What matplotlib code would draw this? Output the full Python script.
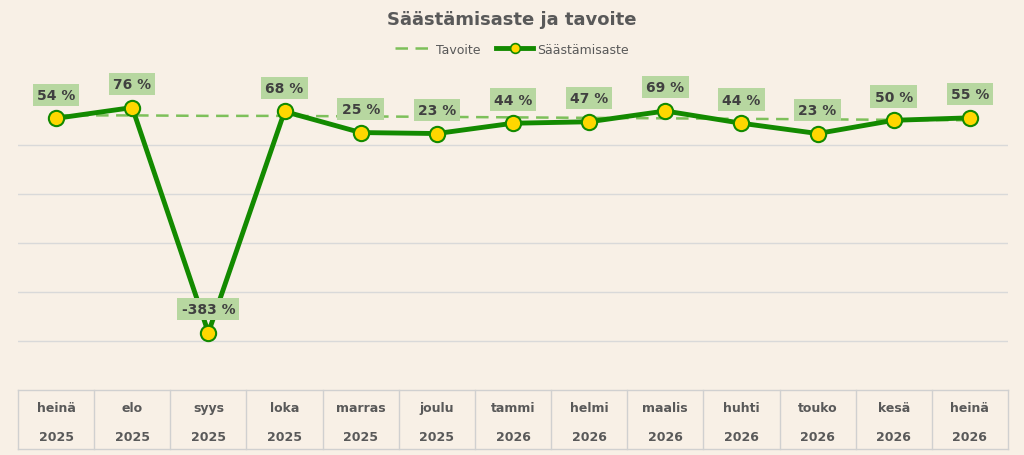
import matplotlib.pyplot as plt
import numpy as np
from matplotlib.lines import Line2D

months = ['heinä', 'elo', 'syys', 'loka', 'marras', 'joulu', 'tammi', 'helmi',
          'maalis', 'huhti', 'touko', 'kesä', 'heinä']
years = ['2025'] * 6 + ['2026'] * 7
savings = [54, 76, -383, 68, 25, 23, 44, 47, 69, 44, 23, 50, 55]
target = [60, 60, 59, 59, 58, 57, 56, 55, 54, 53, 52, 51, 50]

bg = '#f8f0e6'
W, H = 1024, 456
fig = plt.figure(figsize=(W / 100, H / 100), dpi=100, facecolor=bg)
# plot area in pixels: x 18..1008, y 60..391
ax = fig.add_axes([18 / W, 1 - 391 / H, 990 / W, 331 / H], facecolor=bg)
n = len(months)
x = np.arange(n)
ax.set_xlim(-0.5, n - 0.5)
ax.set_ylim(-500, 175)
for g in [0, -100, -200, -300, -400]:
    ax.axhline(g, color='#d9d9d9', lw=1, zorder=0)
for s in ax.spines.values():
    s.set_visible(False)
ax.set_xticks([])
ax.set_yticks([])

ax.plot(x, target, ls=(0, (5, 3)), color='#7dc05a', lw=1.8, zorder=2)
ax.plot(x, savings, color='#138a00', lw=3.5, marker='o', ms=11,
        mfc='#ffd700', mec='#138a00', mew=1.5, zorder=3)
for xi, v in zip(x, savings):
    ax.annotate(f'{v} %', (xi, v), xytext=(0, 12), textcoords='offset points',
                ha='center', va='bottom', fontsize=10, fontweight='bold', color='#404040',
                bbox=dict(boxstyle='square,pad=0.3', fc='#b7d7a0', ec='none'), zorder=4)

# category table under the plot
lc = '#d0d0d0'
fig.add_artist(Line2D([18 / W, 1008 / W], [1 - 391 / H] * 2, color=lc, lw=1))
fig.add_artist(Line2D([18 / W, 1008 / W], [1 - 450 / H] * 2, color=lc, lw=1))
cw = 990 / n
for i in range(n + 1):
    xp = (18 + i * cw) / W
    fig.add_artist(Line2D([xp, xp], [1 - 391 / H, 1 - 450 / H], color=lc, lw=1))
for i in range(n):
    xp = (18 + (i + 0.5) * cw) / W
    fig.text(xp, 1 - 409 / H, months[i], ha='center', va='center', fontsize=9,
             fontweight='bold', color='#595959')
    fig.text(xp, 1 - 438 / H, years[i], ha='center', va='center', fontsize=9,
             fontweight='bold', color='#595959')

fig.text(0.5, 1 - 20 / H, 'Säästämisaste ja tavoite', ha='center', va='center',
         fontsize=13, fontweight='bold', color='#595959')
handles = [Line2D([], [], ls=(0, (5, 3)), color='#7dc05a', lw=1.8),
           Line2D([], [], color='#138a00', lw=3.5, marker='o', ms=7,
                  mfc='#ffd700', mec='#138a00', mew=1.2)]
fig.legend(handles, ['Tavoite', 'Säästämisaste'], loc='center',
           bbox_to_anchor=(0.5, 1 - 50 / H), ncol=2, frameon=False,
           fontsize=9, labelcolor='#595959', handlelength=3, handletextpad=0.3,
           columnspacing=1.2)

fig.savefig('out.png', dpi=100, facecolor=bg)
